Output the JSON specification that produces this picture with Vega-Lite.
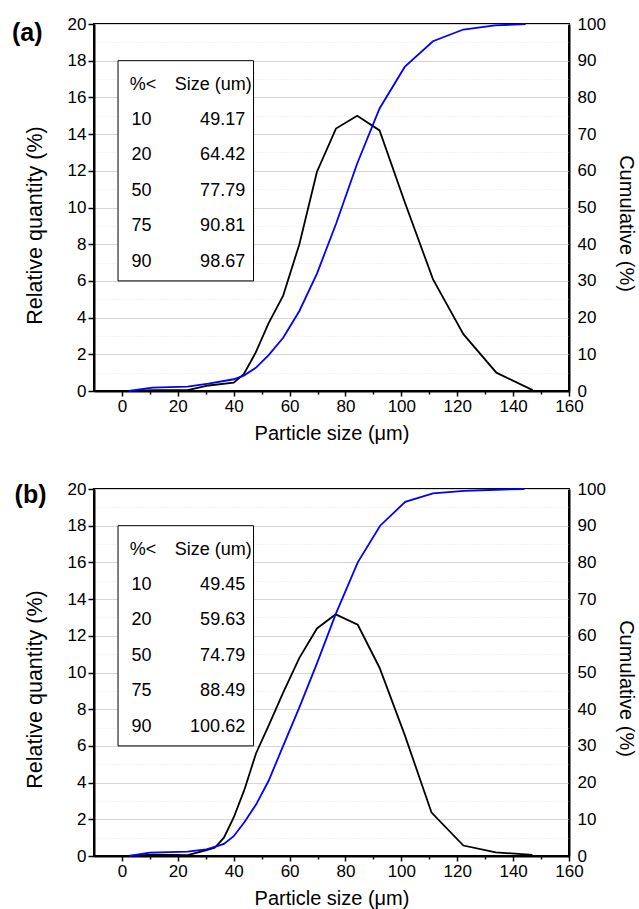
{
  "$schema": "https://vega.github.io/schema/vega-lite/v6.json",
  "padding": {"left": 10, "top": 14, "right": 0, "bottom": 0},
  "background": "white",
  "config": {
    "font": "Liberation Sans",
    "view": {"stroke": "black", "strokeWidth": 2},
    "axis": {
      "labelFont": "Liberation Sans", "titleFont": "Liberation Sans",
      "labelColor": "black", "titleColor": "black", "titleFontWeight": "normal",
      "domainColor": "black", "domainWidth": 2, "tickColor": "black", "tickWidth": 1.5,
      "labelFontSize": 17, "titleFontSize": 20, "labelOverlap": false, "labelFlush": false
    }
  },
  "datasets": {
    "a_rel": [{"size":2.5,"value":0},{"size":11.5,"value":0.05},{"size":23.5,"value":0.05},{"size":31,"value":0.3},{"size":40,"value":0.45},{"size":43.6,"value":0.92},{"size":47.9,"value":2.1},{"size":52.5,"value":3.7},{"size":57.7,"value":5.2},{"size":63.5,"value":8.0},{"size":69.8,"value":11.95},{"size":76.6,"value":14.3},{"size":84.2,"value":15.0},{"size":92.2,"value":14.2},{"size":101.2,"value":10.3},{"size":111.3,"value":6.1},{"size":122.2,"value":3.1},{"size":134.0,"value":1.0},{"size":147.0,"value":0.05}],
    "a_cum": [{"size":2.5,"value":0},{"size":11,"value":0.9},{"size":23.5,"value":1.2},{"size":31,"value":2.0},{"size":40,"value":3.2},{"size":43.6,"value":4.2},{"size":47.9,"value":6.3},{"size":52.5,"value":9.8},{"size":57.7,"value":14.5},{"size":63.5,"value":21.8},{"size":69.8,"value":32},{"size":76.6,"value":45.5},{"size":84.2,"value":62},{"size":92.2,"value":77},{"size":101.2,"value":88.3},{"size":111.3,"value":95.3},{"size":122.2,"value":98.5},{"size":133.5,"value":99.6},{"size":144.5,"value":100}],
    "b_rel": [{"size":2.5,"value":0},{"size":11,"value":0.08},{"size":23.5,"value":0.05},{"size":30,"value":0.3},{"size":33.2,"value":0.45},{"size":36.5,"value":1.0},{"size":40,"value":2.1},{"size":43.8,"value":3.6},{"size":48,"value":5.6},{"size":52.5,"value":7.1},{"size":57.7,"value":8.9},{"size":63.5,"value":10.8},{"size":69.8,"value":12.4},{"size":76.5,"value":13.17},{"size":84.4,"value":12.6},{"size":92.2,"value":10.26},{"size":101.2,"value":6.6},{"size":110.8,"value":2.37},{"size":122.2,"value":0.57},{"size":133.8,"value":0.2},{"size":146.9,"value":0.06}],
    "b_cum": [{"size":2.5,"value":0},{"size":10,"value":0.9},{"size":23.5,"value":1.2},{"size":30.2,"value":1.8},{"size":33.2,"value":2.5},{"size":36.5,"value":3.3},{"size":40,"value":5.4},{"size":43.8,"value":9.2},{"size":48,"value":14},{"size":52.5,"value":20.5},{"size":57.7,"value":30},{"size":63.5,"value":40.5},{"size":69.8,"value":52.5},{"size":76.5,"value":65.9},{"size":84.4,"value":80},{"size":92.4,"value":90},{"size":101.4,"value":96.5},{"size":111.3,"value":98.8},{"size":122.5,"value":99.5},{"size":133.8,"value":99.8},{"size":144,"value":100}],
    "a_tab": [{"row":0,"pct":"%<","um":"Size (um)"},{"row":1,"pct":"10","um":"49.17"},{"row":2,"pct":"20","um":"64.42"},{"row":3,"pct":"50","um":"77.79"},{"row":4,"pct":"75","um":"90.81"},{"row":5,"pct":"90","um":"98.67"}],
    "b_tab": [{"row":0,"pct":"%<","um":"Size (um)"},{"row":1,"pct":"10","um":"49.45"},{"row":2,"pct":"20","um":"59.63"},{"row":3,"pct":"50","um":"74.79"},{"row":4,"pct":"75","um":"88.49"},{"row":5,"pct":"90","um":"100.62"}]
  },
  "bounds": "flush",
  "spacing": 98,
  "vconcat": [
    {
      "width": 475, "height": 367,
      "resolve": {"scale": {"y": "independent"}, "axis": {"y": "independent"}},
      "layer": [
        {
          "layer": [
            {
              "data": {"name": "a_rel"},
              "mark": {"type": "line", "color": "black", "strokeWidth": 1.8},
              "encoding": {
                "x": {"field": "size", "type": "quantitative", "scale": {"domain": [-10, 160], "nice": false, "zero": false},
                  "axis": {"values": [0,10,20,30,40,50,60,70,80,90,100,110,120,130,140,150,160], "tickCount": 100, "format": "d", "labelExpr": "datum.value % 20 === 0 ? datum.label : ''",
                    "tickSize": {"condition": {"test": "datum.value % 20 === 0", "value": 5}, "value": 3},
                    "labelOverlap": false, "labelPadding": 2, "grid": false, "title": "Particle size (μm)", "titleY": 48.5, "titleBaseline": "alphabetic", "titleFontSize": 20}},
                "y": {"field": "value", "type": "quantitative", "scale": {"domain": [0, 20], "nice": false},
                  "axis": {"values": [0,1,2,3,4,5,6,7,8,9,10,11,12,13,14,15,16,17,18,19,20], "tickCount": 100, "format": "d", "labelExpr": "datum.value % 2 === 0 ? datum.label : ''",
                    "labelOverlap": false, "tickSize": 6, "tickOpacity": {"condition": {"test": "datum.value % 2 === 1", "value": 0}, "value": 1},
                    "labelPadding": 2, "grid": true,
                    "gridColor": {"condition": {"test": "datum.value % 2 === 1", "value": "#e6e6e6"}, "value": "#d6d6d6"},
                    "gridDash": {"condition": {"test": "datum.value % 2 === 1", "value": [1, 2]}, "value": []},
                    "gridWidth": 1,
                    "title": "Relative quantity (%)", "titleX": -52.5, "titleY": 201, "titleBaseline": "alphabetic", "titleFontSize": 21.5}}
              }
            },
            {
              "data": {"values": [{"box": "D-values"}]},
              "mark": {"type": "rect", "fill": "white", "stroke": "black", "strokeWidth": 1},
              "encoding": {"x": {"datum": -1.4, "type": "quantitative"}, "x2": {"datum": 47.1}, "y": {"datum": 6, "type": "quantitative"}, "y2": {"datum": 18}}
            },
            {
              "data": {"values": [{"label": "(a)"}]},
              "mark": {"type": "text", "fontSize": 25, "fontWeight": "bold", "align": "center", "baseline": "middle"},
              "encoding": {"x": {"datum": -33.9, "type": "quantitative"}, "y": {"datum": 19.5, "type": "quantitative"}, "text": {"field": "label"}}
            }
          ]
        },
        {
          "data": {"name": "a_cum"},
          "mark": {"type": "line", "color": "#0000ff", "strokeWidth": 1.8},
          "encoding": {
            "x": {"field": "size", "type": "quantitative"},
            "y": {"field": "value", "type": "quantitative", "scale": {"domain": [0, 100], "nice": false},
              "axis": {"orient": "right", "values": [0,10,20,30,40,50,60,70,80,90,100], "tickCount": 100, "format": "d", "labelOverlap": false, "ticks": false, "tickSize": 0, "labelPadding": 8, "grid": false,
                "title": "Cumulative (%)", "titleX": 50, "titleY": 199, "titleBaseline": "alphabetic", "titleAngle": 90, "titleFontSize": 20}}
          }
        },
        {
          "data": {"name": "a_tab"},
          "encoding": {"y": {"field": "row", "type": "quantitative", "scale": {"domain": [-1.71, 8.65], "reverse": true, "nice": false, "zero": false}, "axis": null}},
          "layer": [
            {"transform": [{"filter": "datum.row > 0"}], "mark": {"type": "text", "align": "left", "baseline": "middle", "fontSize": 18},
              "encoding": {"x": {"datum": 3.4, "type": "quantitative"}, "text": {"field": "pct"}}},
            {"transform": [{"filter": "datum.row > 0"}], "mark": {"type": "text", "align": "right", "baseline": "middle", "fontSize": 18},
              "encoding": {"x": {"datum": 44.1, "type": "quantitative"}, "text": {"field": "um"}}},
            {"transform": [{"filter": "datum.row === 0"}], "mark": {"type": "text", "align": "left", "baseline": "middle", "fontSize": 18},
              "encoding": {"x": {"datum": 2.8, "type": "quantitative"}, "text": {"field": "pct"}}},
            {"transform": [{"filter": "datum.row === 0"}], "mark": {"type": "text", "align": "right", "baseline": "middle", "fontSize": 18},
              "encoding": {"x": {"datum": 46.5, "type": "quantitative"}, "text": {"field": "um"}}}
          ]
        }
      ]
    },
    {
      "width": 475, "height": 367,
      "resolve": {"scale": {"y": "independent"}, "axis": {"y": "independent"}},
      "layer": [
        {
          "layer": [
            {
              "data": {"name": "b_rel"},
              "mark": {"type": "line", "color": "black", "strokeWidth": 1.8},
              "encoding": {
                "x": {"field": "size", "type": "quantitative", "scale": {"domain": [-10, 160], "nice": false, "zero": false},
                  "axis": {"values": [0,10,20,30,40,50,60,70,80,90,100,110,120,130,140,150,160], "tickCount": 100, "format": "d", "labelExpr": "datum.value % 20 === 0 ? datum.label : ''",
                    "tickSize": {"condition": {"test": "datum.value % 20 === 0", "value": 5}, "value": 3},
                    "labelOverlap": false, "labelPadding": 2, "grid": false, "title": "Particle size (μm)", "titleY": 48.5, "titleBaseline": "alphabetic", "titleFontSize": 20}},
                "y": {"field": "value", "type": "quantitative", "scale": {"domain": [0, 20], "nice": false},
                  "axis": {"values": [0,1,2,3,4,5,6,7,8,9,10,11,12,13,14,15,16,17,18,19,20], "tickCount": 100, "format": "d", "labelExpr": "datum.value % 2 === 0 ? datum.label : ''",
                    "labelOverlap": false, "tickSize": 6, "tickOpacity": {"condition": {"test": "datum.value % 2 === 1", "value": 0}, "value": 1},
                    "labelPadding": 2, "grid": true,
                    "gridColor": {"condition": {"test": "datum.value % 2 === 1", "value": "#e6e6e6"}, "value": "#d6d6d6"},
                    "gridDash": {"condition": {"test": "datum.value % 2 === 1", "value": [1, 2]}, "value": []},
                    "gridWidth": 1,
                    "title": "Relative quantity (%)", "titleX": -52.5, "titleY": 200, "titleBaseline": "alphabetic", "titleFontSize": 21.5}}
              }
            },
            {
              "data": {"values": [{"box": "D-values"}]},
              "mark": {"type": "rect", "fill": "white", "stroke": "black", "strokeWidth": 1},
              "encoding": {"x": {"datum": -1.4, "type": "quantitative"}, "x2": {"datum": 47.1}, "y": {"datum": 6, "type": "quantitative"}, "y2": {"datum": 18}}
            },
            {
              "data": {"values": [{"label": "(b)"}]},
              "mark": {"type": "text", "fontSize": 25, "fontWeight": "bold", "align": "center", "baseline": "middle"},
              "encoding": {"x": {"datum": -32.7, "type": "quantitative"}, "y": {"datum": 19.67, "type": "quantitative"}, "text": {"field": "label"}}
            }
          ]
        },
        {
          "data": {"name": "b_cum"},
          "mark": {"type": "line", "color": "#0000ff", "strokeWidth": 1.8},
          "encoding": {
            "x": {"field": "size", "type": "quantitative"},
            "y": {"field": "value", "type": "quantitative", "scale": {"domain": [0, 100], "nice": false},
              "axis": {"orient": "right", "values": [0,10,20,30,40,50,60,70,80,90,100], "tickCount": 100, "format": "d", "labelOverlap": false, "ticks": false, "tickSize": 0, "labelPadding": 8, "grid": false,
                "title": "Cumulative (%)", "titleX": 50, "titleY": 199, "titleBaseline": "alphabetic", "titleAngle": 90, "titleFontSize": 20}}
          }
        },
        {
          "data": {"name": "b_tab"},
          "encoding": {"y": {"field": "row", "type": "quantitative", "scale": {"domain": [-1.71, 8.65], "reverse": true, "nice": false, "zero": false}, "axis": null}},
          "layer": [
            {"transform": [{"filter": "datum.row > 0"}], "mark": {"type": "text", "align": "left", "baseline": "middle", "fontSize": 18},
              "encoding": {"x": {"datum": 3.4, "type": "quantitative"}, "text": {"field": "pct"}}},
            {"transform": [{"filter": "datum.row > 0"}], "mark": {"type": "text", "align": "right", "baseline": "middle", "fontSize": 18},
              "encoding": {"x": {"datum": 44.1, "type": "quantitative"}, "text": {"field": "um"}}},
            {"transform": [{"filter": "datum.row === 0"}], "mark": {"type": "text", "align": "left", "baseline": "middle", "fontSize": 18},
              "encoding": {"x": {"datum": 2.8, "type": "quantitative"}, "text": {"field": "pct"}}},
            {"transform": [{"filter": "datum.row === 0"}], "mark": {"type": "text", "align": "right", "baseline": "middle", "fontSize": 18},
              "encoding": {"x": {"datum": 46.5, "type": "quantitative"}, "text": {"field": "um"}}}
          ]
        }
      ]
    }
  ]
}
